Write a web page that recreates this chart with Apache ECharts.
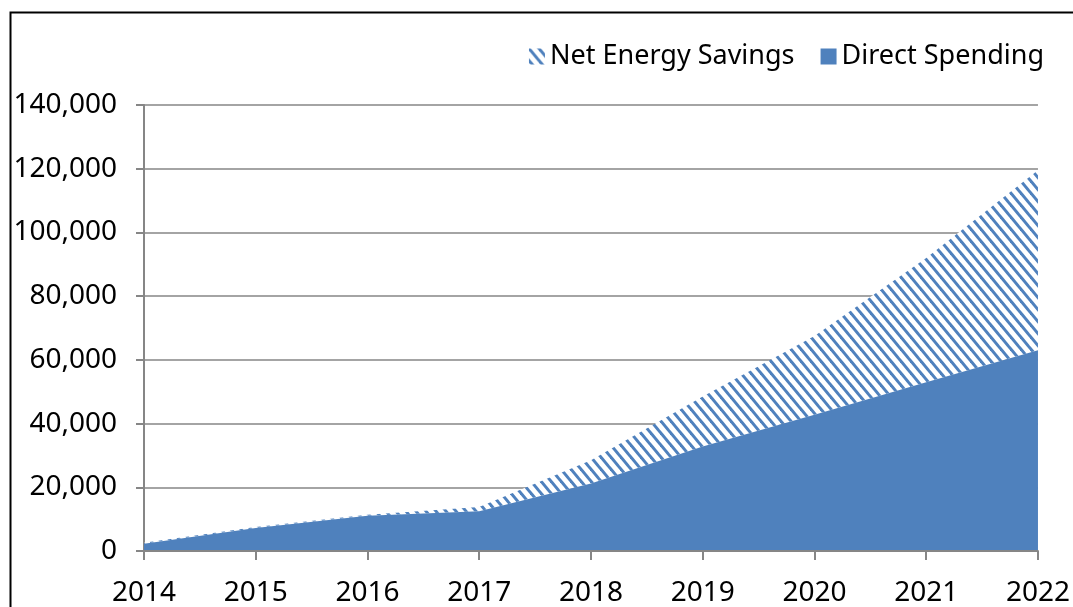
<!DOCTYPE html>
<html>
<head>
<meta charset="utf-8">
<script src="https://cdn.jsdelivr.net/npm/echarts@6/dist/echarts.min.js"></script>
<style>
  html, body { margin: 0; padding: 0; background: #fff; }
  #chart { width: 1073px; height: 607px; }
</style>
</head>
<body>
<div id="chart"></div>
<script>
// values
const years = ['2014', '2015', '2016', '2017', '2018', '2019', '2020', '2021', '2022'];
const directSpending = [2300, 7200, 11100, 12500, 21200, 32800, 42800, 53000, 63000];
const netEnergySavings = [300, 300, 300, 1300, 7300, 15700, 24700, 39000, 56500];

const blue = '#4F81BD';
const font = 'Noto Sans';

// diagonal "\" hatch like the office chart pattern
const makeHatch = () => {
  const w = 10, h = 12;
  const c = document.createElement('canvas');
  c.width = w;
  c.height = h;
  const ctx = c.getContext('2d');
  ctx.fillStyle = '#fff';
  ctx.fillRect(0, 0, w, h);
  ctx.strokeStyle = blue;
  ctx.lineWidth = 3;
  for (let k = -2; k <= 2; k++) {
    const x0 = k * w;
    ctx.beginPath();
    ctx.moveTo(x0 - w, -h);
    ctx.lineTo(x0 + 2 * w, 2 * h);
    ctx.stroke();
  }
  return c;
};

const chart = echarts.init(document.getElementById('chart'));

const option = {
  animation: false,
  backgroundColor: '#fff',
  graphic: [{
    type: 'rect',
    left: 8,
    top: 10,
    shape: { width: 1200, height: 700 },
    style: { fill: 'none', stroke: '#000', lineWidth: 2 },
    silent: true
  }],
  legend: {
    data: ['Net Energy Savings', 'Direct Spending'],
    right: 24,
    top: 38,
    icon: 'rect',
    itemWidth: 16,
    itemHeight: 16,
    itemGap: 26,
    textStyle: { fontFamily: font, fontSize: 27, color: '#000' }
  },
  grid: {
    left: 144,
    right: 32,
    top: 105,
    bottom: 54,
    containLabel: false
  },
  xAxis: {
    type: 'category',
    data: years,
    boundaryGap: false,
    axisLine: { lineStyle: { color: '#868686', width: 2 } },
    axisTick: { show: true, length: 9, alignWithLabel: true, lineStyle: { color: '#868686', width: 2 } },
    axisLabel: { fontFamily: font, fontSize: 28, color: '#000', margin: 28 },
    splitLine: { show: false },
    z: 10
  },
  yAxis: {
    type: 'value',
    min: 0,
    max: 140000,
    interval: 20000,
    axisLine: { show: true, lineStyle: { color: '#868686', width: 2 } },
    axisTick: { show: true, length: 8, lineStyle: { color: '#868686', width: 2 } },
    axisLabel: {
      fontFamily: font,
      fontSize: 28,
      color: '#000',
      margin: 27,
      formatter: v => v.toLocaleString('en-US')
    },
    splitLine: { show: true, lineStyle: { color: '#868686', width: 1.5 } }
  },
  series: [
    {
      name: 'Direct Spending',
      type: 'line',
      stack: 'total',
      data: directSpending,
      showSymbol: false,
      lineStyle: { width: 0 },
      itemStyle: { color: blue },
      areaStyle: { color: blue, opacity: 1 },
      z: 3
    },
    {
      name: 'Net Energy Savings',
      type: 'line',
      stack: 'total',
      data: netEnergySavings,
      showSymbol: false,
      lineStyle: { width: 0 },
      itemStyle: { color: { image: makeHatch(), repeat: 'repeat' } },
      areaStyle: { color: { image: makeHatch(), repeat: 'repeat' }, opacity: 1 },
      z: 2
    }
  ]
};

chart.setOption(option);
</script>
</body>
</html>
